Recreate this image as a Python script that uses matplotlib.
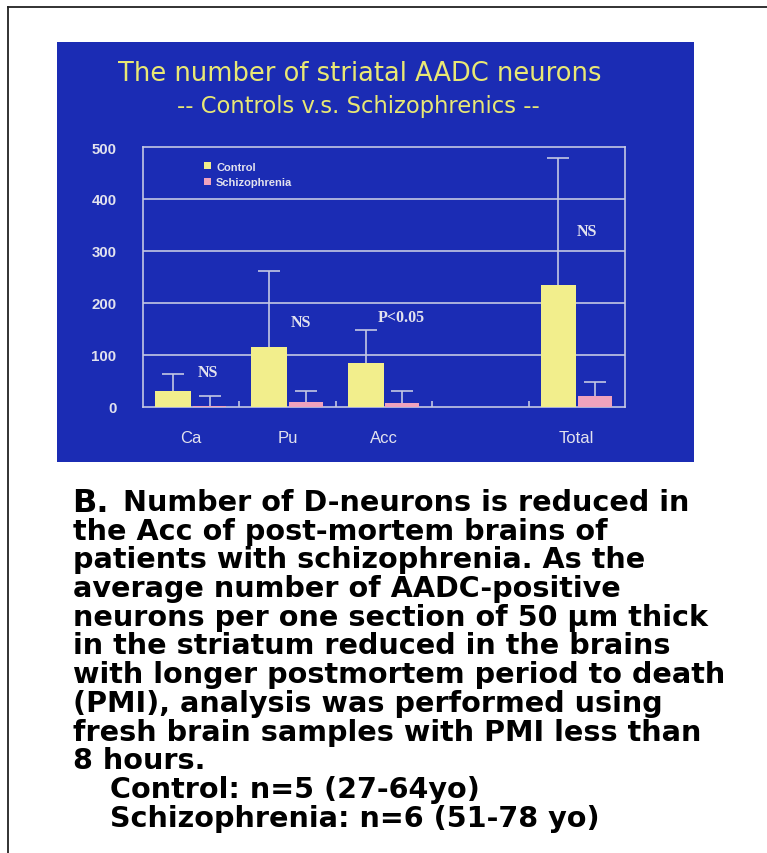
import matplotlib
matplotlib.use("Agg")
import matplotlib.pyplot as plt
from matplotlib.patches import Rectangle, Patch
from matplotlib.lines import Line2D

# ---- data ----
categories = ["Ca", "Pu", "Acc", "Total"]
group_pos = [0, 1, 2, 4]
control = [31, 115, 85, 234]
control_err = [31, 146, 63, 244]
schizo = [2, 10, 7, 20]
schizo_err = [19, 21, 24, 28]
yticks = [0, 100, 200, 300, 400, 500]
sig_labels = ["NS", "NS", "P<0.05", "NS"]
sig_x = [0.17, 1.14, 2.18, 4.1]
sig_y = [67, 164, 173, 338]

title = "The number of striatal AADC neurons"
subtitle = "-- Controls v.s. Schizophrenics --"
caption_first = "Number of D-neurons is reduced in"
caption_lines = [
    "the Acc of post-mortem brains of",
    "patients with schizophrenia. As the",
    "average number of AADC-positive",
    "neurons per one section of 50 \u00b5m thick",
    "in the striatum reduced in the brains",
    "with longer postmortem period to death",
    "(PMI), analysis was performed using",
    "fresh brain samples with PMI less than",
    "8 hours.",
]
caption_indented = ["Control: n=5 (27-64yo)", "Schizophrenia: n=6 (51-78 yo)"]

W, H = 767, 854
fig = plt.figure(figsize=(W / 100, H / 100), dpi=100)
fig.patch.set_facecolor("white")

BLUE = "#1b2cb4"
LIGHT = "#e2e2ee"
GRID = "#c4c8e4"
YEL_T = "#e9e874"
C_CTRL = "#f2ee8c"
C_SCZ = "#f0a2bd"

def fx(px):
    return px / W

def fy(py):
    return 1 - py / H

# border lines (top and left)
fig.add_artist(Line2D([fx(8), 1], [fy(8), fy(8)], color="#222222", lw=1.3))
fig.add_artist(Line2D([fx(8), fx(8)], [0, fy(8)], color="#222222", lw=1.3))

# blue slide panel
fig.add_artist(Rectangle((fx(57), fy(463)), fx(694) - fx(57), fy(43) - fy(463),
                         transform=fig.transFigure, facecolor=BLUE, edgecolor="none", zorder=0))

fig.text(fx(360), fy(74), title, color=YEL_T, fontsize=18.5, family="DejaVu Sans",
         ha="center", va="center", zorder=2)
fig.text(fx(358), fy(106), subtitle, color=YEL_T, fontsize=16.3, family="DejaVu Sans",
         ha="center", va="center", zorder=2)

ax = fig.add_axes([fx(143), fy(407.7), fx(625) - fx(143), fy(148) - fy(407.7)], zorder=3)
ax.set_facecolor("none")
ax.set_xlim(-0.5, 4.5)
ax.set_ylim(0, 500)

off = 0.19
bw = 0.37
cx = [p - off for p in group_pos]
sx = [p + off for p in group_pos]
ekw = dict(ecolor=GRID, elinewidth=1.2, capsize=8, capthick=1.2, zorder=2)
b1 = ax.bar(cx, control, width=bw, color=C_CTRL, edgecolor="none", zorder=3,
            yerr=[[0] * 4, control_err], error_kw=ekw, label="Control")
b2 = ax.bar(sx, schizo, width=bw * 0.95, color=C_SCZ, edgecolor="none", zorder=3,
            yerr=[[0] * 4, schizo_err], error_kw=ekw, label="Schizophrenia")
for b in (b1, b2):
    caps = b.errorbar.lines[1]
    if len(caps) > 1:
        caps[0].set_visible(False)

for t, x, y in zip(sig_labels, sig_x, sig_y):
    ax.text(x, y, t, color=LIGHT, fontsize=11.5, family="Liberation Serif", fontweight="bold",
            ha="center", va="center")

for y in yticks[1:-1]:
    ax.axhline(y, color=GRID, lw=1.2, zorder=1)
for s in ax.spines.values():
    s.set_color(GRID)
    s.set_linewidth(1.2)

ax.set_yticks(yticks)
ax.set_yticklabels([str(v) for v in yticks], color=LIGHT, fontsize=10.8, family="Liberation Sans",
                   fontweight="bold")
ax.tick_params(axis="y", length=0, pad=19)
ax.set_xticks(group_pos)
ax.set_xticklabels(categories, color=LIGHT, fontsize=12, family="Liberation Sans")
ax.tick_params(axis="x", length=0, pad=17)
ax.set_xticks([0.5, 1.5, 2.5, 3.5], minor=True)
ax.tick_params(axis="x", which="minor", direction="in", length=4, color=GRID, width=1.2)

handles = [Patch(facecolor=C_CTRL), Patch(facecolor=C_SCZ)]
leg = ax.legend(handles, ["Control", "Schizophrenia"], loc="upper left",
                bbox_to_anchor=(0.115, 0.965), frameon=False, borderpad=0,
                handlelength=0.6, handleheight=0.6, handletextpad=0.5, labelspacing=0.5,
                prop=dict(family="Liberation Sans", weight="bold", size=8))
for t in leg.get_texts():
    t.set_color(LIGHT)

# caption
CAP = dict(family="DejaVu Sans", fontweight="bold", color="black", fontsize=20.6, va="baseline")
base0 = 511
step = 28.7
fig.text(fx(72), fy(base0 + 1), "B.", family="DejaVu Sans", fontweight="bold", color="black",
         fontsize=23, va="baseline")
fig.text(fx(123), fy(base0), caption_first, **CAP)
for i, line in enumerate(caption_lines):
    fig.text(fx(73), fy(base0 + step * (i + 1)), line, **CAP)
for j, line in enumerate(caption_indented):
    fig.text(fx(110), fy(base0 + step * (len(caption_lines) + 1 + j)), line, **CAP)

fig.savefig("out.png", dpi=100, facecolor="white")
